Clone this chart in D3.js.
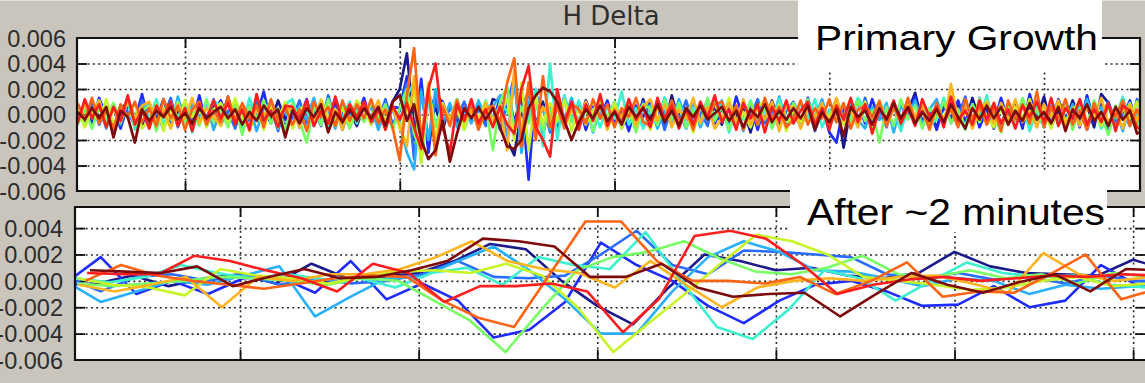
<!DOCTYPE html>
<html>
<head>
<meta charset="utf-8">
<script src="https://cdn.jsdelivr.net/npm/d3@7"></script>
<style>
  html, body { margin: 0; padding: 0; background: #c9c5bd; overflow: hidden; }
  svg { display: block; }
</style>
</head>
<body>
<svg id="chart" width="1145" height="383"></svg>
<script>
// ---- series (jet-like palette, first drawn underneath, last on top) ----
const seriesNames = ["s01", "s02", "s03", "s04", "s05", "s06", "s07", "s08", "s09", "s10", "s11"];
const seriesColors = ["#1a1a8c", "#1f2cff", "#2a6cff", "#28b0ff", "#3cf0d0", "#78ff64",
                      "#c8f528", "#ffb41e", "#ff6414", "#ff1e1e", "#7d0a0a"];

// ---- upper panel: H delta during primary growth (units of 1e-4), sampled every 1/30 grid unit from t = 0.5 ----
const topStart = 0.5;
const topStep = 1 / 30;
const topS01 = [3,-6,8,-2,5,-9,4,10,-3,-8, 6,-4,12,-7,2,9,-11,5,-2,7, -5,14,-8,3,-12,6,1,-6,11,-4, 8,-10,4,-3,9,-7,13,-5,2,-9,
  6,-2,10,-6,10,20,48,-10,-25,15, 5,-12,8,-6,4,-3,7,-8,12,10, -20,-32,5,18,-8,10,-12,6,-4,9, -7,11,-3,5,-10,8,-5,3,-8,12,
  -4,7,-9,15,-6,2,-11,9,-3,6, -8,10,-2,5,-14,8,-4,11,-7,3, 9,-5,6,-10,4,-2,12,-26,5,-3, 7,-12,10,-4,8,-9,3,17,-6,2,
  -10,6,-3,9,-7,13,-5,4,-11,8, -2,10,-8,5,-4,14,-9,3,-6,11, -3,7,-10,16,9,-5,12,-7,3,-4];
const topS02 = [-4,9,-7,13,-2,6,-11,8,-5,16, -8,4,-12,10,-3,7,-6,15,-9,2, 11,-5,8,-14,6,-1,18,-7,4,-10, 7,-3,12,-9,5,-6,10,-12,8,-2,
  13,-8,4,-5,6,5,30,-20,28,-30, 15,10,-7,12,-10,6,-9,8,-4,12, 20,-6,15,-51,20,-15,8,-10,14,-5, 9,-12,6,-3,11,-8,4,-13,7,-2,
  10,-6,13,-9,3,-11,8,-4,12,-7, 5,-10,14,-3,7,-12,9,-5,11,-8, 4,-9,13,-6,8,-14,-22,6,-3,10, -7,12,-4,6,-11,9,-2,14,-8,5,
  -12,7,-3,11,-6,9,-10,4,-7,13, -5,8,-11,16,-4,6,-9,12,-3,7, -10,15,-6,9,-13,5,-2,11,-8,6];
const topS03 = [7,-3,10,-8,4,-12,6,2,-9,11, -5,8,-2,13,-10,5,-7,9,-4,12, -8,3,-11,7,-5,10,-2,6,-13,8, -3,11,-7,4,-9,15,-5,2,-10,6,
  -4,9,-6,12,-8,3,25,-35,20,-20, 12,-8,5,-3,10,-6,4,-9,7,-12, 8,30,-25,22,-10,6,-14,9,-3,7, -10,5,-2,13,-7,8,-11,4,-6,10,
  -3,9,-12,6,-5,11,-8,2,-9,14, -6,4,-10,8,-2,12,-7,5,-11,3, 10,-4,7,-13,5,-8,11,-2,6,-9, 13,-6,3,-10,8,-5,12,-3,9,-12,
  5,-7,10,-2,14,-9,4,-6,8,-11, 6,-3,12,-8,2,-10,9,-5,11,-4, 7,-12,5,-2,10,-7,3,-9,12,-6];
const topS04 = [-6,10,-3,7,-11,5,-8,12,-2,6, 9,-7,3,-10,14,-5,8,-3,10,-12, 4,-8,11,-2,7,-13,5,9,-6,3, -9,6,-4,13,-7,2,-11,8,-3,10,
  -5,7,-12,6,3,-8,-30,-43,18,-20, 20,-6,9,-10,4,-7,11,-3,6,15, -20,28,-30,10,-8,5,-12,9,-4,13, -6,8,-14,4,-2,10,-7,12,-9,5,
  7,-11,3,-6,12,-4,8,-10,5,-2, 11,-8,6,-13,4,-3,9,-7,14,-5, 3,-10,7,-2,12,-9,5,-6,10,-4, -11,6,-4,9,-14,7,-2,11,-8,4,
  12,-5,8,-3,6,-10,13,-7,2,-9, 9,-4,11,-12,5,-7,3,10,-6,8, -8,12,-3,6,-10,4,-13,8,-2,5];
const topS05 = [5,-9,3,11,-6,8,-4,10,-12,4, -3,12,-8,6,-2,9,-14,7,-5,11, 6,-4,9,-10,13,-3,-7,5,-11,8, 12,-6,3,-8,7,-12,4,-2,10,-7,
  9,-4,6,-9,5,-6,15,25,-38,12, -8,6,-3,10,-12,5,-7,11,-4,8, 3,-9,6,-4,20,-25,40,-20,15,-6, 11,-7,4,-10,6,-3,18,-8,5,-11,
  4,-8,13,-2,7,-11,5,-6,10,-3, 8,-14,6,-4,11,-7,3,-9,12,-5, -7,9,-3,12,-10,4,-6,8,-2,13, 5,-9,11,-4,7,-13,6,-2,10,-8,
  -4,13,-7,3,-9,8,-5,15,-10,6, 4,-6,9,-13,7,-3,11,-8,5,-2, 10,-7,4,-11,6,-3,14,-9,2,-6];
const topS06 = [-8,4,-11,6,-2,9,-5,13,-9,3, 7,-13,5,-4,10,-7,2,-9,12,-6, 4,-10,8,-16,6,-3,11,-7,5,-12, 9,-5,-22,7,-8,12,-4,6,-11,3,
  -6,10,-3,8,-12,5,20,-15,-30,20, -10,7,-4,12,-8,3,-11,6,-28,10, 22,-10,5,-7,9,-12,4,-6,11,-3, -9,6,-13,8,-2,10,-5,3,-14,7,
  5,-8,11,-4,9,-10,3,-7,13,-5, 6,-12,4,-3,10,-8,7,-11,2,-6, 9,-4,12,-7,5,-10,3,8,-6,11, -5,3,-22,6,-9,12,-4,7,-11,5,
  -3,10,-7,4,-12,8,-6,11,-2,-14, 7,-5,13,-8,4,-10,6,-3,9,-12, 5,-8,11,-2,-16,7,-4,9,-10,3];
const topS07 = [6,-10,3,-5,12,-8,4,-3,9,-11, -4,8,-13,5,-7,11,-2,6,-10,4, 9,-6,13,-3,-9,5,-12,8,-4,10, -11,4,8,-6,12,-2,-9,5,-7,11,
  4,-8,10,-5,7,-11,3,18,-38,22, -20,9,-6,4,-12,7,-3,10,-8,5, 12,-20,25,-28,15,-7,9,-4,11,-13, 5,-8,3,12,-6,9,-11,4,-3,8,
  -12,6,-4,10,-8,3,-14,7,-2,9, -5,13,-7,2,-10,6,11,-4,8,-13, 4,-6,9,-11,3,-2,12,-8,6,-5, 10,-13,5,-3,8,-7,11,-4,2,-9,
  7,-4,11,-9,3,-6,12,-2,-10,5, -8,6,-3,12,-7,4,-11,9,-5,3, 11,-6,2,-9,7,-12,5,-3,10,-7];
const topS08 = [-5,8,-2,11,-9,4,-6,12,-3,7, 10,-6,4,-11,8,-3,13,-7,5,-2, -9,12,-4,7,-13,5,-1,10,-8,6, 3,-10,9,-5,11,-7,4,-12,8,-4,
  7,-3,11,-8,5,-9,-25,30,-20,25, -25,8,-4,11,-6,3,-10,9,-5,7, -28,35,-15,25,-10,6,-3,12,-8,4, -6,10,-4,7,-12,5,-2,11,-9,6,
  12,-5,8,-10,4,-3,13,-7,6,-11, -3,9,-6,12,-8,5,-4,10,-13,7, 6,-11,4,-2,9,-7,13,-5,3,-10, 8,-3,11,-9,5,-6,12,-2,7,-12,
  4,-8,24,-5,6,-11,3,10,-7,9, -4,12,-6,3,-10,8,-2,11,-8,5, -9,6,-3,13,-7,4,-11,8,-5,10];
const topS09 = [9,-4,13,-7,3,-11,8,-2,10,-6, 5,-9,12,-3,7,-12,4,10,-8,3, -6,14,-5,9,-3,7,-10,12,-4,6, -8,4,-13,10,-2,6,-9,11,-5,8,
  -3,12,-7,4,-10,-36,15,52,-20,20, -32,6,-9,11,-4,8,-12,3,7,-6, 25,44,-25,25,-20,30,-10,6,-11,9, 4,-7,12,-3,8,-10,5,-2,13,-6,
  -9,7,-4,11,-6,3,-12,9,-2,8, 10,-5,7,-12,4,-8,13,-3,6,-10, -4,11,-8,5,-3,12,-6,9,-11,4, 7,-2,10,-9,6,-5,13,-7,3,-11,
  9,-6,4,-10,12,-3,7,-8,5,-13, 11,-4,8,-7,18,-10,6,-3,12,-8, 3,-12,9,-5,7,-2,11,-9,4,-6];
const topS10 = [-7,12,-3,8,-10,6,-5,15,-8,4, -11,7,-2,10,-9,5,-13,8,-4,11, -3,9,-8,4,-12,16,-5,3,-10,7, 6,-4,11,-9,3,-7,14,-6,8,-2,
  10,-6,4,-12,7,-4,9,-10,-27,20, 40,-10,-30,8,-5,12,-7,4,-10,6, -8,-15,20,38,-10,-20,-33,20,-6,10, -12,8,-5,16,-9,3,-7,12,-4,6,
  -10,13,-3,7,-11,5,-8,10,-2,15, -6,4,-12,9,-3,8,-14,6,-5,11, -7,3,10,-8,5,-12,7,-4,13,-6, 8,-15,4,-3,11,-7,5,-9,12,-2,
  6,-10,14,-5,3,-8,11,-4,9,-7, 4,-11,7,-2,10,-6,13,-9,5,-3, 12,-8,4,-6,9,-13,7,3,-10,-14];
const topS11 = [2,-4,5,-3,6,-18,3,-2,-22,4, -5,3,-2,6,-4,1,-7,5,-3,2, 6,-3,4,-8,2,-5,7,-1,4,-18, 3,-7,5,-2,8,-14,2,-6,4,-5,
  5,-3,6,-9,10,15,-5,8,-20,-35, -28,-5,-37,-15,5,-3,6,-4,5,-10, -25,-27,-20,5,15,21,18,10,-5,-20, -6,4,-3,7,-5,2,-8,6,-2,5,
  -4,8,-6,3,-9,5,-2,7,-4,1, 6,-5,3,-10,4,-2,8,-6,3,-4, 5,-3,7,-12,2,-6,4,-17,6,-2, 3,-8,5,-4,9,-3,6,-7,2,-5,
  4,-6,8,-2,-11,5,-4,7,-3,6, -8,3,-5,9,-4,2,-7,6,-13,4, -3,8,-5,2,-9,6,-4,3,-15,-12];
const topSeries = [topS01, topS02, topS03, topS04, topS05, topS06, topS07, topS08, topS09, topS10, topS11];

// ---- lower panel: after ~2 minutes (units of 1e-4), one sample per step, each series with its own phase ----
const lateS01 = [-3,-2,4,-4,2,5,-2,13,2,3,6,15,28,24,0,-19,-33,-5,20,15,8,10,4,2,6,22,11,6,5,4,16,8];
const lateS02 = [-2,18,-10,0,-10,2,3,-9,15,-14,-2,-15,-43,-37,-16,29,12,0,-19,-32,-15,-3,0,-8,-19,-18,-4,-20,-15,12,-3,0];
const lateS03 = [3,-8,3,5,0,5,-3,2,-2,0,5,15,3,2,4,20,38,12,5,23,22,20,18,5,2,6,1,3,-2,4,0,0];
const lateS04 = [0,-16,-8,0,-3,4,11,-27,-12,2,3,15,26,8,-14,-40,-40,-8,18,30,22,8,7,2,-4,2,0,-10,-3,-6,-4,-2];
const lateS05 = [2,-1,3,12,6,2,5,1,2,-5,6,10,-3,18,12,9,37,0,-35,-44,-22,8,2,-15,0,14,6,3,4,-3,-5,-2];
const lateS06 = [-2,-4,-2,0,3,2,0,-3,2,0,-15,-30,-54,-22,8,18,22,30,17,7,5,10,19,5,3,8,2,5,-2,6,3,1];
const lateS07 = [2,-3,-5,-11,9,4,2,-2,3,7,8,6,13,4,-20,-54,-32,-10,13,35,30,20,3,0,-3,-7,-5,0,3,-4,-2,0];
const lateS08 = [-3,-8,-3,3,-20,3,0,5,5,9,18,30,15,9,6,-5,15,-3,-20,-5,0,2,0,3,4,-2,-9,21,5,0,3,1];
const lateS09 = [0,12,4,0,-3,-6,-2,2,4,3,-15,-28,-35,5,45,45,15,0,0,-2,3,-10,0,14,-12,-8,-9,5,20,-14,-6,0];
const lateS10 = [6,5,5,19,15,8,2,-8,13,6,-16,-4,-4,-2,-8,-39,-14,34,38,32,13,-10,-3,1,3,0,2,4,3,5,4,3];
const lateS11 = [8,7,6,11,-4,3,9,2,3,8,15,32,30,26,3,3,13,-5,-12,-10,-9,-27,-10,6,-3,-9,-1,5,-8,9,8,5];
const lateSeries = [lateS01, lateS02, lateS03, lateS04, lateS05, lateS06, lateS07, lateS08, lateS09, lateS10, lateS11];
const latePhase = [0, 0.1, 0.1, 0.1, 0.35, 0.43, 0.45, 0.49, 0.67, 0.72, 0.8];

// ---- axes ----
const topYTicks = [0.006, 0.004, 0.002, 0, -0.002, -0.004, -0.006];
const topYLabels = ["0.006", "0.004", "0.002", "0.000", "-0.002", "-0.004", "-0.006"];
const topXTicks = [1, 2, 3, 4, 5];
const lateYTicks = [0.004, 0.002, 0, -0.002, -0.004, -0.006];
const lateYLabels = ["0.004", "0.002", "0.000", "-0.002", "-0.004", "-0.006"];
const lateXTicks = [5, 10, 15, 20, 25, 30];
const unit = 1e-4;

const svg = d3.select("#chart");
const defs = svg.append("defs");

// header band
svg.append("line").attr("x1", 0).attr("x2", 1145).attr("y1", 0.5).attr("y2", 0.5)
  .attr("stroke", "#e4e1dc").attr("stroke-width", 1);
svg.append("text").attr("x", 611).attr("y", 25)
  .attr("text-anchor", "middle")
  .style("font-family", "'DejaVu Sans', sans-serif").style("font-size", "26px")
  .style("fill", "#2f2f2f").text("H Delta");

function panel(opt) {
  const { id, left, right, top, bottom, xDomain, yDomain, yTicks, yLabels, xTicks, labelPad, rightBorder } = opt;
  const x = d3.scaleLinear().domain(xDomain).range([left, right]);
  const y = d3.scaleLinear().domain(yDomain).range([bottom, top]);
  const w = right - left, h = bottom - top;
  const g = svg.append("g");

  g.append("rect").attr("x", left).attr("y", top).attr("width", w).attr("height", h).attr("fill", "#ffffff");

  defs.append("clipPath").attr("id", id).append("rect")
    .attr("x", left).attr("y", top).attr("width", w).attr("height", h);

  const inner = yTicks.filter(v => v > yDomain[0] + 1e-9 && v < yDomain[1] - 1e-9);

  // dotted grid
  const gridY = g.append("g").attr("transform", `translate(${left},0)`)
    .call(d3.axisLeft(y).tickValues(inner).tickSize(-w).tickFormat(""));
  const gridX = g.append("g").attr("transform", `translate(0,${bottom})`)
    .call(d3.axisBottom(x).tickValues(xTicks).tickSize(-h).tickFormat(""));
  [gridY, gridX].forEach(a => {
    a.select(".domain").remove();
    a.selectAll("line").attr("stroke", "#2a2a2a").attr("stroke-width", 1.6).attr("stroke-dasharray", "2,3.3");
  });

  // short solid inward ticks on every side
  const tickStyle = a => { a.select(".domain").remove(); a.selectAll("line").attr("stroke", "#111").attr("stroke-width", 1.8); };
  g.append("g").attr("transform", `translate(${left},0)`)
    .call(d3.axisRight(y).tickValues(inner).tickSize(10).tickFormat("")).call(tickStyle);
  g.append("g").attr("transform", `translate(${right},0)`)
    .call(d3.axisLeft(y).tickValues(inner).tickSize(10).tickFormat("")).call(tickStyle);
  g.append("g").attr("transform", `translate(0,${top})`)
    .call(d3.axisBottom(x).tickValues(xTicks).tickSize(10).tickFormat("")).call(tickStyle);
  g.append("g").attr("transform", `translate(0,${bottom})`)
    .call(d3.axisTop(x).tickValues(xTicks).tickSize(10).tickFormat("")).call(tickStyle);

  // traces
  const lines = g.append("g").attr("clip-path", `url(#${id})`);
  opt.series.forEach((vals, k) => {
    const line = d3.line()
      .x((d, i) => x(opt.xAt(k, i)))
      .y(d => y(d * unit));
    lines.append("path").datum(vals)
      .attr("fill", "none")
      .attr("stroke", seriesColors[k])
      .attr("stroke-width", opt.lineWidth)
      .attr("stroke-linejoin", "round")
      .attr("d", line)
      .attr("data-name", seriesNames[k]);
  });

  // frame
  const frame = g.append("path")
    .attr("fill", "none").attr("stroke", "#111").attr("stroke-width", 2.2);
  if (rightBorder) {
    frame.attr("d", `M${left},${top}H${right}V${bottom}H${left}Z`);
  } else {
    frame.attr("d", `M${right + 10},${top}H${left}V${bottom}H${right + 10}`);
  }

  // value labels
  const ax = g.append("g").attr("transform", `translate(${left},0)`)
    .call(d3.axisLeft(y).tickValues(yTicks).tickSize(0).tickPadding(labelPad)
      .tickFormat((d, i) => yLabels[i]));
  ax.select(".domain").remove();
  ax.selectAll("text")
    .style("font-family", "'Liberation Sans', Arial, sans-serif")
    .style("font-size", "23.5px")
    .style("fill", "#2c2c2c")
    .attr("dy", "0.35em");
  return { x, y };
}

panel({
  id: "clipTop", left: 77, right: 1140, top: 38, bottom: 191,
  xDomain: [0.497, 5.447], yDomain: [-0.006, 0.006],
  yTicks: topYTicks, yLabels: topYLabels, xTicks: topXTicks, labelPad: 11, rightBorder: true,
  series: topSeries, lineWidth: 2.7,
  xAt: (k, i) => topStart + i * topStep
});

panel({
  id: "clipLate", left: 75, right: 1146, top: 207, bottom: 360,
  xDomain: [0.38, 30.36], yDomain: [-0.006, 0.0056],
  yTicks: lateYTicks, yLabels: lateYLabels, xTicks: lateXTicks, labelPad: 12, rightBorder: false,
  series: lateSeries, lineWidth: 2.6,
  xAt: (k, i) => latePhase[k] + i
});

// caption boxes
function caption(x0, y0, w, h, tx, ty, len, size, text) {
  svg.append("rect").attr("x", x0).attr("y", y0).attr("width", w).attr("height", h).attr("fill", "#ffffff");
  svg.append("text").attr("x", tx).attr("y", ty)
    .attr("textLength", len).attr("lengthAdjust", "spacingAndGlyphs")
    .style("font-family", "'Liberation Sans', Arial, sans-serif")
    .style("font-size", size + "px").style("fill", "#000")
    .text(text);
}
caption(798, 0, 304, 69, 815, 50, 283, 35, "Primary Growth");
caption(790, 173, 317, 59, 807, 225, 298, 36, "After ~2 minutes");
</script>
</body>
</html>
